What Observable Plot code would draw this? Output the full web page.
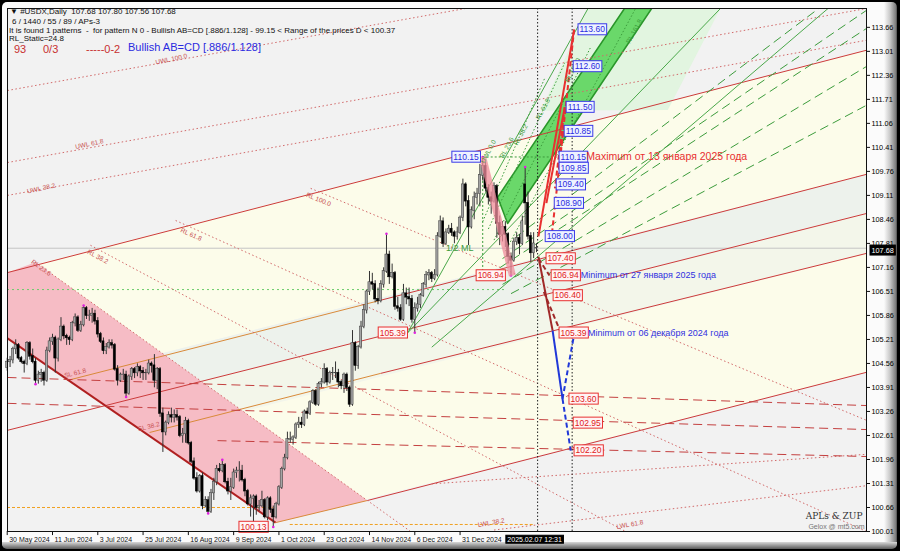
<!DOCTYPE html>
<html><head><meta charset="utf-8">
<script src="https://cdn.jsdelivr.net/npm/d3@7"></script>
<script src="https://cdn.jsdelivr.net/npm/@observablehq/plot@0.6"></script>
<style>
html,body{margin:0;padding:0;background:#000;}
#wrap{position:relative;width:900px;height:551px;overflow:hidden;background:#000;}
#panel{position:absolute;left:2px;top:2px;width:895px;height:546px;border-radius:5px;
 background:linear-gradient(to right,#fbfbfb 0,#fbfbfb 882px,#c8c8c8 888px,#7a7a7a 894px,#444 895px);}
#bot{position:absolute;left:2px;top:542px;width:895px;height:7px;border-radius:0 0 5px 5px;background:linear-gradient(#d8d8d8,#5a5a5a);}
#chart{position:absolute;left:0;top:0;}
.h{position:absolute;font-family:"Liberation Sans",Arial,sans-serif;font-size:8px;color:#111;white-space:nowrap;line-height:1;}
</style></head><body>
<div id="wrap"><div id="panel"></div><div id="bot"></div><div id="chart"></div>
<div class="h" style="left:10px;top:8px">&#9660; #USDX,Daily&nbsp; 107.68 107.80 107.56 107.68</div>
<div class="h" style="left:12px;top:18px">6 / 1440 / 55 / 89 / APs-3</div>
<div class="h" style="left:9px;top:27px">It is found 1 patterns&nbsp; -&nbsp; for pattern N 0 - Bullish AB=CD [.886/1.128] - 99.15 &lt; Range of the prices D &lt; 100.37</div>
<div class="h" style="left:9px;top:35px">RL_Static=24.8</div>
<div class="h" style="left:14px;top:44px;font-size:11px;color:#c83030">93</div>
<div class="h" style="left:43px;top:44px;font-size:11px;color:#c83030">0/3</div>
<div class="h" style="left:86px;top:44px;font-size:11px;color:#c83030">-----0-2</div>
<div class="h" style="left:128px;top:42px;font-size:11px;color:#2a2ae0">Bullish AB=CD [.886/1.128]</div>
</div>
<script>
// ---- data: daily bars from 20 May 2024 (index 0) to 7 Feb 2025 (index 187)
const opens = [104.45,104.60,104.65,104.95,105.05,104.70,104.60,104.55,105.10,104.75,104.60,104.10,104.25,104.30,104.10,104.90,105.15,105.25,104.70,105.20,105.55,105.30,105.25,105.20,105.65,105.80,105.45,105.60,106.05,105.85,105.85,105.90,105.70,105.35,105.15,104.90,105.00,105.10,105.05,104.40,104.10,104.25,104.25,103.75,104.20,104.40,104.30,104.45,104.35,104.30,104.30,104.55,104.50,104.10,104.40,103.20,102.70,102.95,103.15,103.10,103.15,103.10,102.60,102.65,103.00,102.40,101.90,101.45,101.10,101.50,100.70,100.85,100.55,101.05,101.35,101.70,101.65,101.80,101.35,101.10,101.20,101.60,101.65,101.65,101.40,101.10,100.75,100.90,100.95,100.65,100.70,100.85,100.40,100.90,100.60,100.40,100.75,101.20,101.70,102.00,102.50,102.50,102.55,102.90,102.95,102.90,103.25,103.20,103.50,103.80,103.45,104.00,104.05,104.40,104.05,104.30,104.30,104.30,104.05,103.95,104.25,103.90,103.45,105.10,104.50,105.00,105.55,106.00,106.50,106.75,106.70,106.30,106.25,106.70,107.05,107.50,106.90,107.00,106.10,106.05,105.75,106.45,106.35,106.30,105.75,106.05,106.15,106.40,106.70,106.95,107.00,106.85,106.95,108.00,108.40,107.80,108.10,108.20,108.10,108.00,108.10,108.50,109.40,108.95,108.25,108.70,109.05,109.15,109.65,109.90,109.30,109.05,108.95,109.35,108.35,108.05,108.25,108.05,107.45,107.35,107.85,107.95,107.80,109.40,108.90,108.00,107.55,107.68];
const highs = [104.70,104.75,105.00,105.20,105.10,104.75,104.65,105.15,105.15,104.95,104.70,104.35,104.40,104.35,105.00,105.25,105.35,105.30,105.25,105.80,105.60,105.35,105.30,105.70,105.90,105.85,105.70,106.13,106.10,106.00,106.05,106.00,105.80,105.40,105.25,105.10,105.20,105.20,105.10,104.50,104.30,104.40,104.35,104.25,104.45,104.45,104.55,104.50,104.45,104.40,104.65,104.60,104.80,104.45,104.45,103.35,103.00,103.25,103.35,103.30,103.30,103.15,102.80,103.10,103.05,102.45,102.00,101.60,101.55,101.60,100.95,100.95,101.15,101.45,101.80,101.85,101.95,101.85,101.45,101.45,101.70,101.75,101.90,101.80,101.45,101.15,101.00,101.00,101.00,100.85,101.10,100.90,100.95,100.95,100.70,100.80,101.25,101.75,102.10,102.70,102.70,102.60,102.95,103.10,103.10,103.30,103.35,103.55,103.85,103.85,104.05,104.15,104.55,104.45,104.35,104.45,104.60,104.40,104.10,104.30,104.30,103.95,105.45,105.15,105.05,105.70,106.15,106.55,107.05,107.00,106.80,106.60,106.80,107.15,108.07,107.60,107.25,107.05,106.35,106.15,106.70,106.60,106.60,106.40,106.20,106.35,106.45,106.75,107.05,107.10,107.05,107.10,108.10,108.55,108.50,108.20,108.30,108.35,108.15,108.25,108.55,109.55,109.45,109.10,108.80,109.20,109.30,109.95,110.15,110.00,109.40,109.20,109.45,109.40,108.55,108.40,108.40,108.10,107.55,107.95,108.10,108.05,108.55,109.88,109.20,108.10,108.10,107.80];
const lows = [104.35,104.45,104.55,104.80,104.65,104.55,104.30,104.50,104.65,104.55,104.00,104.00,104.05,103.95,104.05,104.85,105.05,104.30,104.60,105.15,105.20,105.05,105.05,105.15,105.55,105.40,105.40,105.55,105.75,105.70,105.65,105.60,105.25,105.10,104.80,104.80,104.95,104.95,104.35,103.95,104.05,104.10,103.65,103.70,104.10,104.15,104.20,104.15,104.10,104.10,104.25,104.30,103.90,103.85,103.10,102.15,102.60,102.90,102.95,102.95,103.00,102.55,102.40,102.40,102.35,101.85,101.40,101.05,101.05,100.60,100.65,100.50,100.50,100.85,101.25,101.60,101.60,101.30,101.00,100.85,101.15,101.45,101.35,101.35,100.95,100.70,100.40,100.25,100.45,100.55,100.65,100.35,100.30,100.50,100.13,100.35,100.70,101.15,101.65,101.95,102.40,102.35,102.50,102.80,102.80,102.85,103.05,103.15,103.45,103.40,103.40,103.90,104.00,103.95,104.00,104.10,104.15,103.90,103.85,103.75,103.80,103.37,103.40,104.35,104.40,104.95,105.50,105.90,106.40,106.55,106.20,106.15,106.20,106.60,107.00,106.70,106.85,106.00,105.95,105.70,105.70,106.15,106.10,105.65,105.39,105.95,106.05,106.35,106.60,106.80,106.75,106.80,106.90,107.95,107.70,107.75,108.05,108.00,107.80,107.90,108.05,108.40,108.80,107.75,108.20,108.45,108.85,108.80,109.50,109.20,108.85,108.60,108.90,107.95,107.75,107.85,107.70,107.25,106.94,107.30,107.75,107.50,107.75,108.30,107.90,107.30,107.40,107.56];
const closes = [104.60,104.65,104.95,105.05,104.70,104.60,104.55,105.10,104.75,104.60,104.10,104.25,104.30,104.10,104.90,105.15,105.25,104.70,105.20,105.55,105.30,105.25,105.20,105.65,105.80,105.45,105.60,106.05,105.85,105.85,105.90,105.70,105.35,105.15,104.90,105.00,105.10,105.05,104.40,104.10,104.25,104.25,103.75,104.20,104.40,104.30,104.45,104.35,104.30,104.30,104.55,104.50,104.10,104.40,103.20,102.70,102.95,103.15,103.10,103.15,103.10,102.60,102.65,103.00,102.40,101.90,101.45,101.10,101.50,100.70,100.85,100.55,101.05,101.35,101.70,101.65,101.80,101.35,101.10,101.20,101.60,101.65,101.65,101.40,101.10,100.75,100.90,100.95,100.65,100.70,100.85,100.40,100.90,100.60,100.40,100.75,101.20,101.70,102.00,102.50,102.50,102.55,102.90,102.95,102.90,103.25,103.20,103.50,103.80,103.45,104.00,104.05,104.40,104.05,104.30,104.30,104.30,104.05,103.95,104.25,103.90,103.45,105.10,104.50,105.00,105.55,106.00,106.50,106.75,106.70,106.30,106.25,106.70,107.05,107.50,106.90,107.00,106.10,106.05,105.75,106.45,106.35,106.30,105.75,106.05,106.15,106.40,106.70,106.95,107.00,106.85,106.95,108.00,108.40,107.80,108.10,108.20,108.10,108.00,108.10,108.50,109.40,108.95,108.25,108.70,109.05,109.15,109.65,109.90,109.30,109.05,108.95,109.35,108.35,108.05,108.25,108.05,107.45,107.35,107.85,107.95,107.80,108.40,108.90,108.00,107.55,107.80,107.68];

// axes
const priceTicks = [113.66,113.01,112.36,111.71,111.06,110.41,109.76,109.11,108.46,107.81,107.16,106.51,105.86,105.21,104.56,103.91,103.26,102.61,101.96,101.31,100.66,100.01];
const dateTickIdx = [0,16,32,48,64,80,96,112,128,144,160];
const dateTickLabels = ["30 May 2024","11 Jun 2024","3 Jul 2024","25 Jul 2024","16 Aug 2024","9 Sep 2024","1 Oct 2024","23 Oct 2024","14 Nov 2024","6 Dec 2024","31 Dec 2024"];
const lastPrice = 107.68;
const cursorIdx = 176, cursorLabel = "2025.02.07 12:31";

// pattern target levels (index of label, price)
const blueLevelIdx = [201.5,199.8,197.3,196.6,194.8,194.8,193.8,193.1,189.9];
const blueLevels = [113.60,112.60,111.50,110.85,110.15,109.85,109.40,108.90,108.00];
const redLevelIdx = [190.2,192.0,192.7,194.8,198.3,199.8,200.1];
const redLevels = [107.40,106.94,106.40,105.39,103.60,102.95,102.20];
const leftLevelIdx = [167.3,176.1,141.5,92.3];
const leftLevels = [110.15,106.94,105.39,100.13];

// swing extremes (index, price)
const swingIdx = [10,27,42,71,76,94,134,144,168,178,183];
const swingPrice = [104.00,106.13,103.65,100.50,101.95,100.13,108.07,105.39,110.15,106.94,109.88];

// chart objects: [idx1, price1, idx2, price2]
const pitchRed = [[0.1,107.02,303.6,113.04],[131.9,106.27,303.6,109.68],[0.1,102.75,303.6,108.62],[131.9,104.29,303.6,107.54],[127.3,100.85,303.6,104.32]];
const pitchOrange = [[21.3,104.10,131.9,106.27],[50.3,102.69,131.9,104.29],[94.8,100.25,127.3,100.85]];
const channelBottom = [[0.1,105.24,94.8,100.25]];
const reactionDotted = [[10.0,107.30,142.5,100.01],[29.4,107.76,218.5,100.01],[59.5,108.43,303.6,100.01],[107.2,109.30,303.6,103.02]];
const upperDotted = [[0.1,111.95,161.9,114.17],[0.1,110.00,303.6,114.17],[0.1,109.11,303.6,113.31],[150.0,101.30,303.6,102.10],[172.0,100.05,303.6,101.25]];
const redDashed = [[0.1,104.18,303.6,103.42],[0.1,103.48,303.6,102.77],[74.3,102.47,303.6,102.04]];
const greenDashed = [[180.0,108.00,286.7,114.17],[175.0,107.40,303.6,114.12],[170.0,106.95,303.6,113.63],[175.0,106.70,303.6,112.60],[178.0,106.45,303.6,111.55]];
const greenThin = [[141.5,105.39,205.2,114.17],[141.5,105.39,252.0,114.17],[150.0,105.00,290.0,114.17]];
const greenDotted = [[168.0,108.40,190.0,112.30],[170.0,108.20,197.0,112.70],[172.0,107.90,206.0,113.10],[176.0,107.60,222.0,114.17]];
const zigSolidRed = [[187.7,108.00,200.3,113.60],[190.5,108.90,197.0,111.50]];
const zigDashedRed = [[200.3,113.60,192.5,108.10],[197.0,111.50,193.5,109.30],[196.4,110.85,195.0,109.85]];
const zigDarkRed = [[187.7,107.45,192.7,105.45]];
const zigDarkRedDashed = [[187.7,107.40,191.6,106.94],[189.6,106.50,195.3,105.45]];
const zigBlueSolid = [[192.7,105.45,196.2,103.60]];
const zigBlueDashed = [[196.2,103.60,199.1,102.20],[196.2,103.60,200.1,105.26]];
const abLeg = [[168.0,110.15,178.5,106.94]];
const abGuides = [[168.0,110.15,168.0,106.94],[168.0,110.15,199.6,110.15]];

// rotated line labels
const lineLabelText = ["UWL 100.0","UWL 61.8","UWL 38.2","RL 23.6","RL 38.2","RL 61.8","RL 100.0","SL 61.8","SL 38.2","LWL 38.2","LWL 61.8"];
const lineLabelIdx = [58,29,12,12,32,65,110,24,50,171,220];
const lineLabelPrice = [112.80,110.50,109.30,107.15,107.45,108.05,109.00,104.30,102.85,100.25,100.20];
const lineLabelAngle = [-12,-12,-12,36,28,24,22,-14,-14,-10,-10];
const greenLabelText = ["UWL 0.0","RL 23.6","RL 38.2","RL 61.8","RL 100.0","RL 161.8"];
const greenLabelIdx = [170,176.5,181.5,189.3,199.8,221.5];
const greenLabelPrice = [110.30,110.40,110.75,111.45,112.50,113.55];

// filled zones: polygons (idx, price)
const zoneCream1 = [[0,107.04],[303.6,113.04],[303.6,109.68],[0,103.77]];
const zoneGreenGray = [[0,103.77],[303.6,109.68],[303.6,108.62],[0,102.75]];
const zoneMix = [[0,102.75],[303.6,108.62],[303.6,107.54],[0,101.64]];
const zoneCream2 = [[0,101.64],[303.6,107.54],[303.6,104.32],[0,98.41]];
const zoneGrayLow = [[0,105.24],[94.8,100.25],[303.6,104.32],[303.6,99],[0,99]];
const pinkChannel = [[0.1,107.02],[10.0,107.30],[127.3,100.85],[94.8,100.25],[0.1,105.24]];
const paleGreen = [[188.5,111.40],[205.2,114.17],[252.0,114.17],[233.4,111.42]];
const greenBand = [[173.3,109.06],[218.1,114.17],[227.7,114.17],[176.8,108.35]];

const bars = opens.map((o,i)=>({k:i,o,h:highs[i],l:lows[i],c:closes[i]}));
const seg = a => a.map(([x1,y1,x2,y2])=>({x1,y1,x2,y2}));
const poly = a => a.map(([x,y])=>({x,y}));
const F = '"Liberation Sans",Arial,sans-serif';
const L = (a,o) => Plot.link(seg(a),{x1:"x1",y1:"y1",x2:"x2",y2:"y2",clip:true,...o});
const P = (a,o) => Plot.line(poly(a),{x:"x",y:"y",curve:"linear-closed",stroke:"none",clip:true,...o});

const chart = Plot.plot({
  width:900, height:551, marginLeft:7, marginRight:34, marginTop:8, marginBottom:20,
  style:{background:"transparent", fontFamily:F, overflow:"visible"},
  x:{type:"linear",domain:[0.1,303.6], axis:null},
  y:{type:"linear",domain:[100.01,114.17], axis:null},
  marks:[
    Plot.frame({fill:"#f2f2f2"}),
    P(zoneCream1,{fill:"#fcfcea"}),
    P(zoneGreenGray,{fill:"#edf2ec"}),
    P(zoneMix,{fill:"#f3f6ea"}),
    P(zoneCream2,{fill:"#fcfcea"}),
    P(zoneGrayLow,{fill:"#f2f2f2"}),
    P(paleGreen,{fill:"#e2f5e0"}),
    P(pinkChannel,{fill:"#f6bcc5"}),
    P(greenBand,{fill:"#6ad86a",stroke:"#2a962a"}),
    Plot.ruleY([lastPrice],{stroke:"#c4c4c4"}),
    Plot.ruleY([106.56],{x1:0.1,x2:176,stroke:"#6acc6a",strokeDasharray:"2,3"}),
    Plot.ruleY([100.66],{x1:0.1,x2:94,stroke:"#f0a020",strokeDasharray:"3,2"}),
    Plot.ruleY([100.20],{x1:100,x2:186,stroke:"#f0a020",strokeDasharray:"3,2"}),
    L(pitchRed,{stroke:"#cc3b3b"}),
    L(pitchOrange,{stroke:"#d98a3a"}),
    L(channelBottom,{stroke:"#b02020",strokeWidth:2}),
    L(reactionDotted,{stroke:"#d26a6a",strokeDasharray:"1.5,2.5"}),
    L(upperDotted,{stroke:"#d26a6a",strokeDasharray:"1.5,2.5"}),
    L(redDashed,{stroke:"#c44040",strokeDasharray:"9,5"}),
    L(greenThin,{stroke:"#4aa84a"}),
    L(greenDotted,{stroke:"#3c9c3c",strokeDasharray:"1.5,2"}),
    L(greenDashed,{stroke:"#3c9c3c",strokeDasharray:"9,5"}),
    L(abGuides,{stroke:"#3c9c3c",strokeDasharray:"2,2"}),
    Plot.ruleX([187.4,199.6],{stroke:"#222",strokeDasharray:"1.5,2"}),
    Plot.ruleX(bars,{x:"k",y1:"l",y2:"h",stroke:"#333",strokeWidth:1}),
    Plot.rect(bars,{x1:d=>d.k-0.38,x2:d=>d.k+0.38,y1:d=>Math.min(d.o,d.c)-0.008,y2:d=>Math.max(d.o,d.c)+0.008,
      fill:d=>d.c>=d.o?"#a4a4a4":"#000",stroke:d=>d.c>=d.o?"#3a3a3a":"#000",strokeWidth:0.5}),
    Plot.dot(swingIdx,{x:d=>d,y:(d,i)=>swingPrice[i],r:1.3,fill:"#e020e0",stroke:"none"}),
    L(abLeg,{stroke:"#f08c9c",strokeWidth:7,strokeOpacity:0.75}),
    L(zigSolidRed,{stroke:"#e83030",strokeWidth:2}),
    L(zigDashedRed,{stroke:"#e83030",strokeWidth:2,strokeDasharray:"5,3"}),
    L(zigDarkRed,{stroke:"#a02828",strokeWidth:2}),
    L(zigDarkRedDashed,{stroke:"#a02828",strokeWidth:2,strokeDasharray:"5,3"}),
    L(zigBlueSolid,{stroke:"#2038d8",strokeWidth:2}),
    L(zigBlueDashed,{stroke:"#2038d8",strokeWidth:2,strokeDasharray:"5,3"}),
    Plot.text(lineLabelText,{x:(d,i)=>lineLabelIdx[i],y:(d,i)=>lineLabelPrice[i],rotate:(d,i)=>lineLabelAngle[i],fill:"#c85050",fontSize:6.5}),
    Plot.text(greenLabelText,{x:(d,i)=>greenLabelIdx[i],y:(d,i)=>greenLabelPrice[i],rotate:-62,fill:"#3a9a3a",fontSize:6.5}),
    Plot.text(blueLevels,{x:(d,i)=>blueLevelIdx[i],y:d=>d,text:d=>d.toFixed(2),textAnchor:"start",dx:2,fill:"#2a2ae0",fontSize:8.5,className:"bbox"}),
    Plot.text(redLevels,{x:(d,i)=>redLevelIdx[i],y:d=>d,text:d=>d.toFixed(2),textAnchor:"start",dx:2,fill:"#e02020",fontSize:8.5,className:"rbox"}),
    Plot.text(leftLevels.slice(0,1),{x:leftLevelIdx[0],y:d=>d,text:d=>d.toFixed(2),textAnchor:"end",dx:-2,fill:"#2a2ae0",fontSize:8.5,className:"bbox"}),
    Plot.text(leftLevels.slice(1),{x:(d,i)=>leftLevelIdx[i+1],y:d=>d,text:d=>d.toFixed(2),textAnchor:"end",dx:-2,fill:"#e02020",fontSize:8.5,className:"rbox"}),
    Plot.text(["Maximum от 13 января 2025 года"],{x:204.6,y:110.15,textAnchor:"start",fill:"#e83030",fontSize:10.5}),
    Plot.text(["Minimum от 27 января 2025 года"],{x:202.6,y:106.94,textAnchor:"start",fill:"#3030e0",fontSize:9}),
    Plot.text(["Minimum от 06 декабря 2024 года"],{x:205.2,y:105.39,textAnchor:"start",fill:"#3030e0",fontSize:9}),
    Plot.text(["1/2 ML"],{x:155.0,y:107.68,textAnchor:"start",fill:"#3a9a3a",fontSize:9}),
    Plot.text(["APLs & ZUP"],{frameAnchor:"bottom-right",dx:-4,dy:-13,fill:"#333",fontSize:9,fontFamily:"DejaVu Serif, serif"}),
    Plot.text(["Gelox @ mt5.com"],{frameAnchor:"bottom-right",dx:-2,dy:-3,fill:"#777",fontSize:7}),
    Plot.frame({stroke:"#111"}),
    Plot.axisY(priceTicks,{anchor:"right",tickSize:3,tickFormat:d=>d.toFixed(2),fontSize:7.3,tickPadding:2,stroke:"#111"}),
    Plot.text([lastPrice],{y:d=>d,frameAnchor:"right",dx:5,dy:2,text:d=>d.toFixed(2),textAnchor:"start",fill:"#fff",fontSize:7.3,className:"pbox"}),
    Plot.ruleX(dateTickIdx,{x:d=>d,y1:100.01,y2:99.90,stroke:"#111"}),
    Plot.text(dateTickIdx,{x:d=>d,y:100.01,dy:8,text:(d,i)=>dateTickLabels[i],textAnchor:"start",dx:2,fontSize:7,fill:"#111"}),
    Plot.text([cursorLabel],{x:cursorIdx,y:100.01,dy:8,textAnchor:"start",dx:2,fill:"#fff",fontSize:7,className:"pbox"})
  ]
});
document.getElementById("chart").appendChild(chart);
function boxes(cls, fill, stroke){
  chart.querySelectorAll("g."+cls+" text").forEach(t=>{
    const b=t.getBBox();
    const r=document.createElementNS("http://www.w3.org/2000/svg","rect");
    r.setAttribute("x",b.x-1.5);r.setAttribute("y",b.y-0.5);
    r.setAttribute("width",b.width+3);r.setAttribute("height",b.height+1);
    r.setAttribute("fill",fill);r.setAttribute("stroke",stroke);r.setAttribute("stroke-width",1);
    if(t.getAttribute("transform")) r.setAttribute("transform",t.getAttribute("transform"));
    t.parentNode.insertBefore(r,t);
  });
}
boxes("bbox","#eef2ff","#3a3ae8");
boxes("rbox","#fff4f4","#e83030");
boxes("pbox","#000","#000");
</script>
</body></html>
